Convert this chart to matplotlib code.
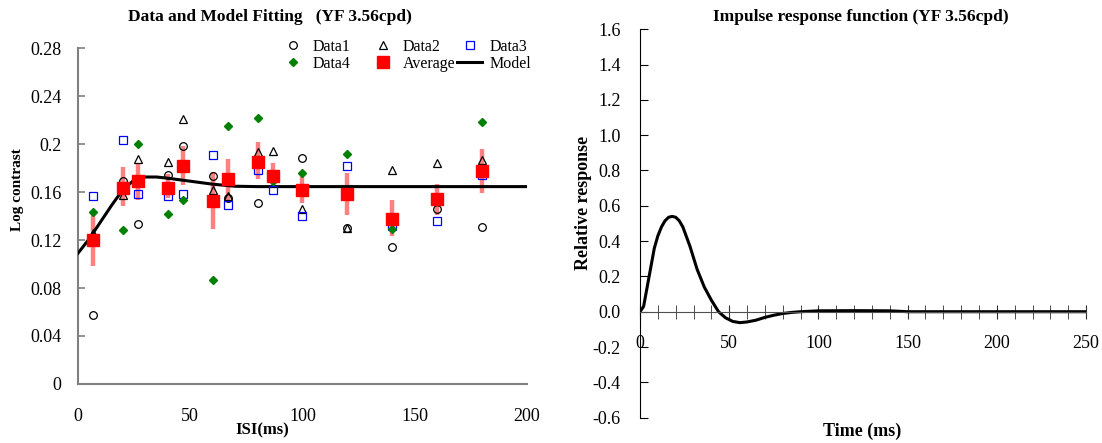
import numpy as np
import matplotlib
matplotlib.use("Agg")
from matplotlib import pyplot as plt
from matplotlib.lines import Line2D
from matplotlib.ticker import MultipleLocator, FormatStrFormatter

plt.rcParams['font.family'] = ['Liberation Serif', 'DejaVu Serif']

# ISI values (ms)
isi = [6.7, 20, 26.7, 40, 46.7, 60, 66.7, 80, 86.7, 100, 120, 140, 160, 180]

data1 = [0.0575, 0.169, 0.133, 0.174, 0.198, 0.1736, 0.155, 0.1506, 0.173, 0.188, 0.130, 0.114, 0.1456, 0.131]
data2 = [0.126, 0.1575, 0.1875, 0.185, 0.221, 0.162, 0.157, 0.193, 0.194, 0.146, 0.130, 0.178, 0.184, 0.1867]
data3 = [0.157, 0.203, 0.158, 0.157, 0.158, 0.191, 0.149, 0.178, 0.162, 0.140, 0.182, 0.132, 0.136, 0.174]
data4 = [0.143, 0.128, 0.200, 0.1414, 0.153, 0.0867, 0.215, 0.222, 0.169, 0.176, 0.192, 0.129, 0.153, 0.218]
average = [0.120, 0.163, 0.169, 0.163, 0.1817, 0.1525, 0.171, 0.185, 0.1736, 0.162, 0.158, 0.1375, 0.154, 0.1775]
err_lo = [0.098, 0.148, 0.153, 0.155, 0.166, 0.129, 0.153, 0.171, 0.166, 0.1506, 0.141, 0.123, 0.141, 0.159]
err_hi = [0.142, 0.181, 0.184, 0.175, 0.198, 0.177, 0.1875, 0.202, 0.184, 0.1756, 0.176, 0.153, 0.167, 0.196]

model_x = [0, 5, 10, 15, 20, 25, 30, 35, 40, 50, 60, 70, 80, 100, 150, 200]
model_y = [0.109, 0.121, 0.135, 0.149, 0.162, 0.170, 0.1725, 0.1725, 0.1715, 0.169, 0.1665, 0.1648, 0.1645, 0.1645, 0.1645, 0.1645]

# impulse response
t = [0, 2, 4, 6, 8, 10, 12, 14, 16, 18, 20, 22, 24, 28, 32, 36, 40, 44, 48, 52, 56, 60, 65, 70, 75,
     80, 85, 90, 100, 120, 140, 150, 200, 250]
resp = [0, 0.03, 0.14, 0.25, 0.36, 0.43, 0.48, 0.515, 0.535, 0.54, 0.535, 0.515, 0.48, 0.37, 0.24, 0.14,
        0.065, 0.0, -0.035, -0.055, -0.062, -0.058, -0.048, -0.032, -0.02, -0.01, -0.004, 0.0, 0.005,
        0.006, 0.005, 0.0, 0.0, 0.0]

fig = plt.figure(figsize=(11.02, 4.43), dpi=100)

# ---- left: data and model fitting
ax1 = fig.add_axes([0.0708, 0.1332, 0.4074, 0.7584])
lo = np.array(average) - np.array(err_lo)
hi = np.array(err_hi) - np.array(average)
ax1.errorbar(isi, average, yerr=[lo, hi], fmt='none', ecolor='#ff8080', elinewidth=3.2, capsize=0, zorder=2)
ax1.plot(model_x, model_y, color='black', lw=2.2, zorder=3)
ax1.plot(isi, data1, 'o', mfc='none', mec='black', ms=5.5, mew=0.9, zorder=4)
ax1.plot(isi, data2, '^', mfc='none', mec='black', ms=6, mew=0.9, zorder=4)
ax1.plot(isi, data3, 's', mfc='none', mec='#0000ff', ms=6, mew=0.9, zorder=4)
ax1.plot(isi, data4, 'D', color='#008000', ms=4.2, zorder=4)
ax1.plot(isi, average, 's', color='#ff0000', ms=8, zorder=5)

ax1.set_xlim(0, 200)
ax1.set_ylim(0, 0.28)
ax1.set_xticks([0, 50, 100, 150, 200])
ax1.set_yticks([0, 0.04, 0.08, 0.12, 0.16, 0.2, 0.24, 0.28])
ax1.set_yticklabels(['0', '0.04', '0.08', '0.12', '0.16', '0.2', '0.24', '0.28'])
for s in ['top', 'right']:
    ax1.spines[s].set_visible(False)
for s in ['left', 'bottom']:
    ax1.spines[s].set_color('#808080')
    ax1.spines[s].set_linewidth(1.5)
ax1.tick_params(axis='y', direction='in', length=5, color='#808080', width=1.2, labelsize=13, pad=12)
ax1.tick_params(axis='x', direction='in', length=0, labelsize=13, pad=17)

# legend: three single-column legends so each column sits where the reference has it
leg_cols = [
    ([Line2D([], [], ls='none', marker='o', mfc='none', mec='black', ms=5.5, mew=0.9),
      Line2D([], [], ls='none', marker='D', color='#008000', ms=4.2)], ['Data1', 'Data4'], 293),
    ([Line2D([], [], ls='none', marker='^', mfc='none', mec='black', ms=6, mew=0.9),
      Line2D([], [], ls='none', marker='s', color='#ff0000', ms=8)], ['Data2', 'Average'], 383),
    ([Line2D([], [], ls='none', marker='s', mfc='none', mec='#0000ff', ms=6, mew=0.9),
      Line2D([], [], color='black', lw=2.2)], ['Data3', 'Model'], 470),
]
hl_px = 25
for hs, ls, xc in leg_cols:
    fig.legend(hs, ls, frameon=False, fontsize=11.5, handlelength=hl_px / 16, handletextpad=0.45,
               labelspacing=0.05, borderpad=0, borderaxespad=0,
               loc='upper left', bbox_to_anchor=((xc - hl_px / 2) / 1102, 1 - 39 / 443),
               bbox_transform=fig.transFigure)

fig.text(0.245, 1 - 17 / 443, 'Data and Model Fitting   (YF 3.56cpd)', ha='center', va='center',
         fontsize=12.5, fontweight='bold')
fig.text(262 / 1102, 1 - 430 / 443, 'ISI(ms)', ha='center', va='center', fontsize=12, fontweight='bold')
fig.text(18 / 1102, 1 - 190 / 443, 'Log contrast', ha='center', va='center', rotation=90,
         fontsize=11, fontweight='bold')

# ---- right: impulse response function
ax2 = fig.add_axes([0.5808, 0.0573, 0.4047, 0.8766])
ax2.plot(t, resp, color='black', lw=2.2)
ax2.set_xlim(0, 250)
ax2.set_ylim(-0.6, 1.6)
ax2.set_xticks([0, 50, 100, 150, 200, 250])
ax2.xaxis.set_minor_locator(MultipleLocator(10))
ax2.set_yticks(np.arange(-0.6, 1.61, 0.2))
ax2.yaxis.set_major_formatter(FormatStrFormatter('%.1f'))
ax2.spines['bottom'].set_position(('data', 0))
for s in ['top', 'right']:
    ax2.spines[s].set_visible(False)
ax2.spines['bottom'].set_color('#505050')
ax2.tick_params(axis='y', direction='in', length=6, labelsize=13, pad=14)
ax2.tick_params(axis='x', which='both', direction='inout', length=10, labelsize=13, pad=12,
                color='#303030')

fig.text(861 / 1102, 1 - 17 / 443, 'Impulse response function (YF 3.56cpd)', ha='center', va='center',
         fontsize=12.5, fontweight='bold')
fig.text(862 / 1102, 1 - 431 / 443, 'Time (ms)', ha='center', va='center', fontsize=13, fontweight='bold')
fig.text(583 / 1102, 1 - 203 / 443, 'Relative response', ha='center', va='center', rotation=90,
         fontsize=13, fontweight='bold')

fig.savefig('out.png', dpi=100)
